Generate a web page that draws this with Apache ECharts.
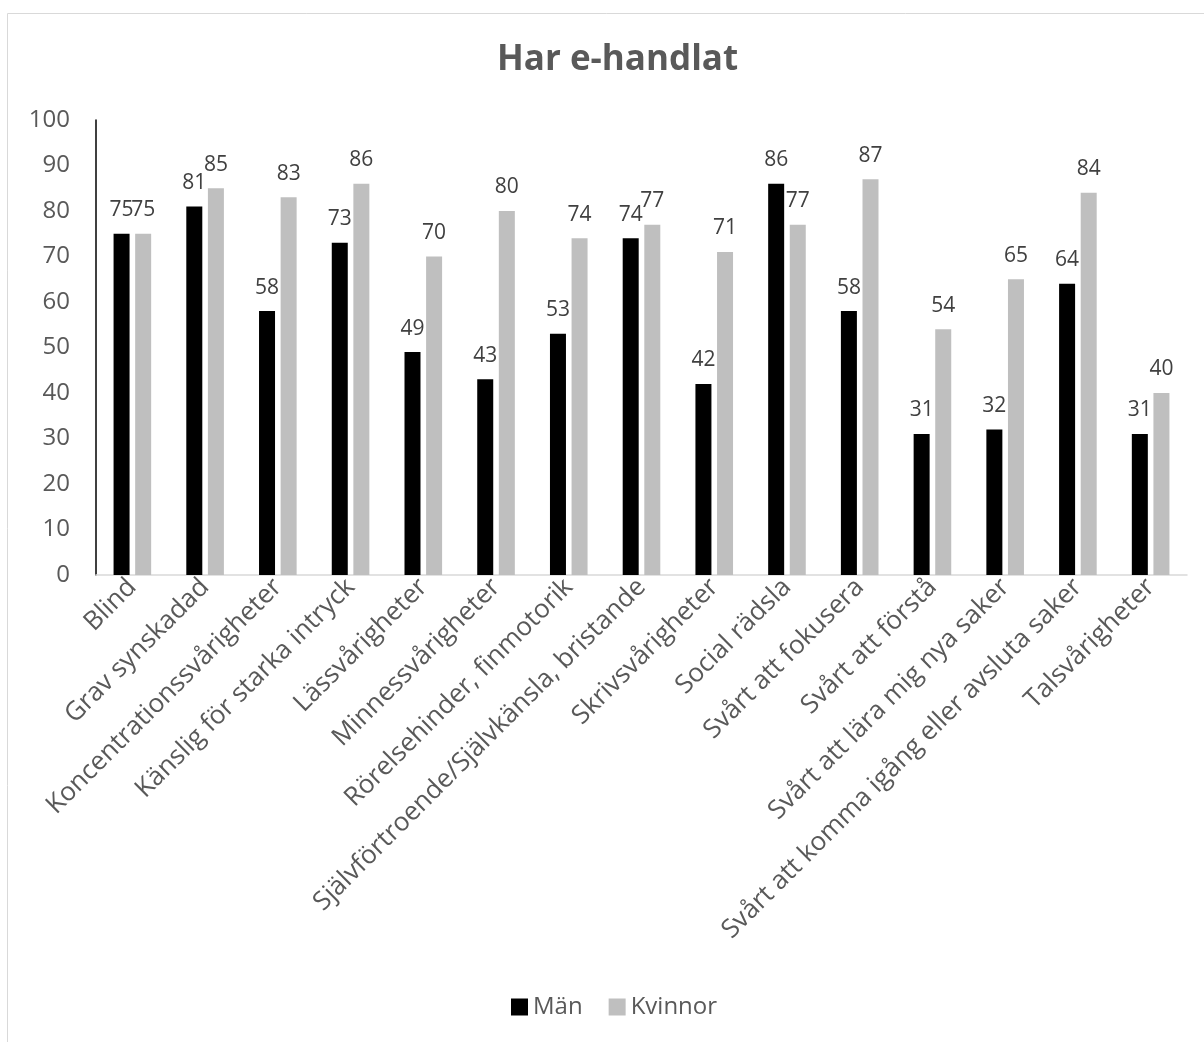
<!DOCTYPE html>
<html><head><meta charset="utf-8">
<script src="https://cdn.jsdelivr.net/npm/echarts@6/dist/echarts.min.js"></script>
<style>html,body{margin:0;padding:0;background:#fff}#c{width:1204px;height:1042px}</style>
</head><body><div id="c"></div>
<script>
const categories = ["Blind","Grav synskadad","Koncentrationssvårigheter","Känslig för starka intryck","Lässvårigheter","Minnessvårigheter","Rörelsehinder, finmotorik","Självförtroende/Självkänsla, bristande","Skrivsvårigheter","Social rädsla","Svårt att fokusera","Svårt att förstå","Svårt att lära mig nya saker","Svårt att komma igång eller avsluta saker","Talsvårigheter"];
const man = [75,81,58,73,49,43,53,74,42,86,58,31,32,64,31];
const kvinnor = [75,85,83,86,70,80,74,77,71,77,87,54,65,84,40];
const yTicks = [0,10,20,30,40,50,60,70,80,90,100];

const FONT = '"Open Sans", "Noto Sans", sans-serif';
const chart = echarts.init(document.getElementById('c'), null, {renderer:'canvas'});
const labelStyle = {show:true, position:'top', distance:13, color:'#404040', fontSize:21, fontFamily:FONT};
chart.setOption({
  animation:false,
  textStyle:{fontFamily:FONT},
  graphic:[{type:'rect', shape:{x:7.5,y:13.5,width:1300,height:1200}, style:{fill:'none', stroke:'#D9D9D9', lineWidth:1}}],
  title:{text:'Har e-handlat', left:492, top:38, textStyle:{fontFamily:FONT, fontSize:35, fontWeight:'bold', color:'#595959'}},
  legend:{bottom:18, left:506, itemWidth:17, itemHeight:17, itemGap:26, icon:'rect',
    textStyle:{fontFamily:FONT, fontSize:24, color:'#595959'}, data:['Män','Kvinnor']},
  grid:{left:96, right:17, top:120, bottom:467, containLabel:false},
  xAxis:{type:'category', data:categories,
    axisLine:{lineStyle:{color:'#D9D9D9', width:1.5}}, axisTick:{show:false},
    axisLabel:{rotate:45, interval:0, fontSize:26, color:'#595959', fontFamily:FONT, margin:8}},
  yAxis:{type:'value', min:yTicks[0], max:yTicks[yTicks.length-1], interval:10,
    splitLine:{show:false}, axisLine:{show:true, lineStyle:{color:'#000', width:1.5}}, axisTick:{show:false},
    axisLabel:{fontSize:24, color:'#595959', fontFamily:FONT, margin:26}},
  series:[
    {name:'Män', type:'bar', data:man, itemStyle:{color:'#000000'}, barWidth:16, barGap:'35%', label:labelStyle},
    {name:'Kvinnor', type:'bar', data:kvinnor, itemStyle:{color:'#BFBFBF'}, barWidth:16, label:labelStyle}
  ]
});
</script></body></html>
